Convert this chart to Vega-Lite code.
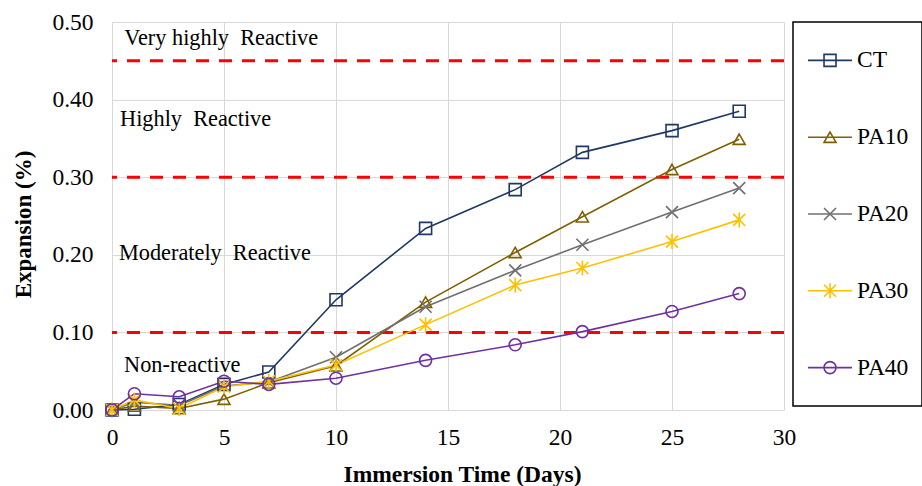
{
  "$schema": "https://vega.github.io/schema/vega-lite/v6.json",
  "background": "white",
  "padding": {"left": 12, "top": 10, "right": 0, "bottom": 0},
  "bounds": "flush",
  "spacing": 9,
  "config": {
    "font": "Liberation Serif",
    "axis": {
      "labelFont": "Liberation Serif",
      "labelFontSize": 23.5,
      "labelColor": "#000000",
      "labelFlush": false,
      "titleFont": "Liberation Serif",
      "titleFontSize": 23.5,
      "titleFontWeight": "bold",
      "titleColor": "#000000",
      "gridColor": "#d9d9d9",
      "gridWidth": 1,
      "domain": false,
      "ticks": false
    }
  },
  "datasets": {
    "expansion": [
      {"series": "CT", "day": 0, "value": 0.000},
      {"series": "CT", "day": 1, "value": 0.001},
      {"series": "CT", "day": 3, "value": 0.007},
      {"series": "CT", "day": 5, "value": 0.033},
      {"series": "CT", "day": 7, "value": 0.049},
      {"series": "CT", "day": 10, "value": 0.142},
      {"series": "CT", "day": 14, "value": 0.234},
      {"series": "CT", "day": 18, "value": 0.284},
      {"series": "CT", "day": 21, "value": 0.332},
      {"series": "CT", "day": 25, "value": 0.360},
      {"series": "CT", "day": 28, "value": 0.385},
      {"series": "PA10", "day": 0, "value": 0.000},
      {"series": "PA10", "day": 1, "value": 0.005},
      {"series": "PA10", "day": 3, "value": 0.002},
      {"series": "PA10", "day": 5, "value": 0.014},
      {"series": "PA10", "day": 7, "value": 0.035},
      {"series": "PA10", "day": 10, "value": 0.057},
      {"series": "PA10", "day": 14, "value": 0.139},
      {"series": "PA10", "day": 18, "value": 0.203},
      {"series": "PA10", "day": 21, "value": 0.249},
      {"series": "PA10", "day": 25, "value": 0.310},
      {"series": "PA10", "day": 28, "value": 0.349},
      {"series": "PA20", "day": 0, "value": 0.000},
      {"series": "PA20", "day": 1, "value": 0.010},
      {"series": "PA20", "day": 3, "value": 0.006},
      {"series": "PA20", "day": 5, "value": 0.031},
      {"series": "PA20", "day": 7, "value": 0.036},
      {"series": "PA20", "day": 10, "value": 0.068},
      {"series": "PA20", "day": 14, "value": 0.133},
      {"series": "PA20", "day": 18, "value": 0.180},
      {"series": "PA20", "day": 21, "value": 0.213},
      {"series": "PA20", "day": 25, "value": 0.255},
      {"series": "PA20", "day": 28, "value": 0.286},
      {"series": "PA30", "day": 0, "value": 0.000},
      {"series": "PA30", "day": 1, "value": 0.013},
      {"series": "PA30", "day": 3, "value": 0.002},
      {"series": "PA30", "day": 5, "value": 0.030},
      {"series": "PA30", "day": 7, "value": 0.037},
      {"series": "PA30", "day": 10, "value": 0.058},
      {"series": "PA30", "day": 14, "value": 0.110},
      {"series": "PA30", "day": 18, "value": 0.161},
      {"series": "PA30", "day": 21, "value": 0.183},
      {"series": "PA30", "day": 25, "value": 0.217},
      {"series": "PA30", "day": 28, "value": 0.245},
      {"series": "PA40", "day": 0, "value": 0.000},
      {"series": "PA40", "day": 1, "value": 0.021},
      {"series": "PA40", "day": 3, "value": 0.017},
      {"series": "PA40", "day": 5, "value": 0.037},
      {"series": "PA40", "day": 7, "value": 0.033},
      {"series": "PA40", "day": 10, "value": 0.041},
      {"series": "PA40", "day": 14, "value": 0.064},
      {"series": "PA40", "day": 18, "value": 0.084},
      {"series": "PA40", "day": 21, "value": 0.101},
      {"series": "PA40", "day": 25, "value": 0.127},
      {"series": "PA40", "day": 28, "value": 0.150}
    ],
    "limits": [
      {"limit": 0.10},
      {"limit": 0.30},
      {"limit": 0.45}
    ],
    "zones": [
      {"zone": "Very highly\u00a0 Reactive", "day": 0.55, "value": 0.480},
      {"zone": "Highly\u00a0 Reactive", "day": 0.36, "value": 0.375},
      {"zone": "Moderately\u00a0 Reactive", "day": 0.31, "value": 0.202},
      {"zone": "Non-reactive", "day": 0.54, "value": 0.058}
    ],
    "series": [
      {"series": "CT"},
      {"series": "PA10"},
      {"series": "PA20"},
      {"series": "PA30"},
      {"series": "PA40"}
    ]
  },
  "hconcat": [
    {
      "width": 672,
      "height": 388,
      "view": {"stroke": null},
      "layer": [
        {
          "data": {"name": "limits"},
          "mark": {"type": "rule", "color": "#ff0000", "strokeWidth": 3, "strokeDash": [13, 10]},
          "encoding": {
            "y": {
              "field": "limit",
              "type": "quantitative",
              "scale": {"domain": [0, 0.5]}
            }
          }
        },
        {
          "data": {"name": "zones"},
          "mark": {"type": "text", "align": "left", "baseline": "middle", "fontSize": 22.3, "font": "Liberation Serif", "color": "#000000"},
          "encoding": {
            "x": {"field": "day", "type": "quantitative"},
            "y": {"field": "value", "type": "quantitative"},
            "text": {"field": "zone"}
          }
        },
        {
          "data": {"name": "expansion"},
          "mark": {"type": "line", "strokeWidth": 1.6},
          "encoding": {
            "x": {
              "field": "day",
              "type": "quantitative",
              "title": "Immersion Time (Days)",
              "scale": {"domain": [0, 30], "nice": false},
              "axis": {"values": [0, 5, 10, 15, 20, 25, 30], "labelPadding": 15, "titlePadding": 14, "titleX": 350, "grid": true}
            },
            "y": {
              "field": "value",
              "type": "quantitative",
              "title": "Expansion (%)",
              "scale": {"domain": [0, 0.5], "nice": false},
              "axis": {"values": [0, 0.1, 0.2, 0.3, 0.4, 0.5], "format": ".2f", "labelPadding": 19, "titlePadding": 16, "titleY": 202, "titleFontSize": 23, "grid": true}
            },
            "color": {
              "field": "series",
              "type": "nominal",
              "legend": null,
              "scale": {
                "domain": ["CT", "PA10", "PA20", "PA30", "PA40"],
                "range": ["#203864", "#7f6000", "#6f6f6f", "#ffc000", "#7030a0"]
              }
            }
          }
        },
        {
          "data": {"name": "expansion"},
          "mark": {"type": "point", "filled": false, "size": 144, "strokeWidth": 1.6, "opacity": 1},
          "encoding": {
            "x": {"field": "day", "type": "quantitative"},
            "y": {"field": "value", "type": "quantitative"},
            "color": {"field": "series", "type": "nominal", "legend": null},
            "shape": {
              "field": "series",
              "type": "nominal",
              "legend": null,
              "scale": {
                "domain": ["CT", "PA10", "PA20", "PA30", "PA40"],
                "range": [
                  "square",
                  "triangle-up",
                  "M-1,-1L1,1M-1,1L1,-1",
                  "M-1,-1L1,1M-1,1L1,-1M0,-1.25L0,1.25",
                  "circle"
                ]
              }
            }
          }
        }
      ]
    },
    {
      "width": 129,
      "height": 384,
      "view": {"stroke": "#000000", "strokeWidth": 1.5},
      "data": {"name": "series"},
      "encoding": {
        "y": {
          "field": "series",
          "type": "nominal",
          "axis": null,
          "scale": {"domain": ["CT", "PA10", "PA20", "PA30", "PA40"]}
        }
      },
      "layer": [
        {
          "mark": {"type": "rule", "strokeWidth": 1.6},
          "encoding": {
            "x": {"datum": 11.6, "type": "quantitative", "scale": {"domain": [0, 100]}, "axis": null},
            "x2": {"datum": 45.7},
            "color": {
              "field": "series",
              "type": "nominal",
              "legend": null,
              "scale": {
                "domain": ["CT", "PA10", "PA20", "PA30", "PA40"],
                "range": ["#203864", "#7f6000", "#6f6f6f", "#ffc000", "#7030a0"]
              }
            }
          }
        },
        {
          "mark": {"type": "point", "filled": false, "size": 144, "strokeWidth": 1.6, "opacity": 1, "fill": "white", "fillOpacity": 0},
          "encoding": {
            "x": {"datum": 28.7, "type": "quantitative"},
            "color": {"field": "series", "type": "nominal", "legend": null},
            "shape": {
              "field": "series",
              "type": "nominal",
              "legend": null,
              "scale": {
                "domain": ["CT", "PA10", "PA20", "PA30", "PA40"],
                "range": [
                  "square",
                  "triangle-up",
                  "M-1,-1L1,1M-1,1L1,-1",
                  "M-1,-1L1,1M-1,1L1,-1M0,-1.25L0,1.25",
                  "circle"
                ]
              }
            }
          }
        },
        {
          "mark": {"type": "text", "align": "left", "baseline": "middle", "fontSize": 23.5, "font": "Liberation Serif", "color": "#000000"},
          "encoding": {
            "x": {"datum": 49.6, "type": "quantitative"},
            "text": {"field": "series"}
          }
        }
      ]
    }
  ]
}
